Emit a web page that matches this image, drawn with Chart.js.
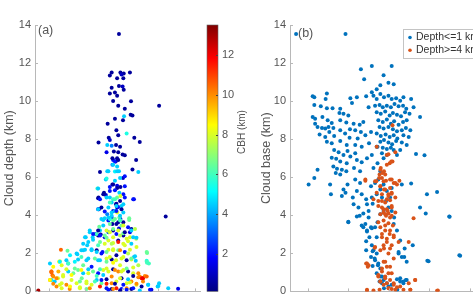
<!DOCTYPE html>
<html><head><meta charset="utf-8">
<script src="https://cdn.jsdelivr.net/npm/chart.js@4.4.1/dist/chart.umd.min.js"></script>
<style>
html,body{margin:0;padding:0;background:#fff;overflow:hidden;width:473px;height:302px;position:relative;}
.c{position:absolute;top:0;height:302px;}
</style></head><body>
<div class="c" style="left:0;width:205px"><canvas id="ca"></canvas></div>
<div class="c" style="left:200px;width:55px"><canvas id="cb"></canvas></div>
<div class="c" style="left:250px;width:250px"><canvas id="cc"></canvas></div>
<script>
// ---------- data ----------
const yTicks = [0,2,4,6,8,10,12,14];
const xTicks = [0,1,2,3,4];
const cbTicks = [2,4,6,8,10,12];
const cbhRange = [0.12, 13.5];
const titleA = 'Cloud depth (km)';
const titleB = 'Cloud base (km)';
const titleCB = 'CBH (km)';
const seriesLabels = ['Depth<=1 km','Depth>=4 km'];

// panel (a): [x, cloud depth (km), CBH (km)]
const panelA = [
[1.92,13.53,0.5],[1.72,11.5,0.5],[1.96,11.5,0.5],[2.05,11.45,0.5],[2.22,11.5,0.5],[1.67,11.35,0.5],[1.99,11.4,1],[1.87,11.2,0.5],[2.04,11.2,0.5],[1.72,10.7,0.5],[1.92,10.8,0.5],[2.02,10.77,1],[2.05,10.6,0.5],[1.81,10.45,0.5],[1.67,10.4,0.5],[1.87,10.28,0.5],[1.76,10,0.5],[2.25,9.99,0.5],[1.9,9.76,0.5],[3.02,9.76,0.5],[2.08,9.6,0.5],[2.24,9.28,0.5],[2.29,9.25,0.5],[2.06,9.21,4.5],[1.81,9.07,0.5],[2.03,8.99,0.5],[1.61,8.81,0.5],[1.85,8.47,0.5],[2.13,8.3,5.5],[1.9,8.2,0.5],[1.64,8.07,0.5],[2.34,8.07,0.5],[1.67,7.95,1],[1.36,7.83,0.5],[2.49,7.85,0.5],[1.6,7.69,4.5],[1.84,7.69,0.5],[1.95,7.6,0.5],[1.72,7.65,3.5],[1.78,7.35,0.5],[1.58,7.31,1.5],[1.9,7.31,0.5],[2.02,7.2,0.5],[2.08,7.15,0.5],[1.87,7,0.5],[1.76,6.91,2],[1.83,6.83,0.5],[2.39,6.9,0.5],[1.74,6.65,3.5],[1.87,6.57,4.5],[2.29,6.4,0.5],[2.45,6.27,4.5],[1.4,6.27,0.5],[1.6,6.31,4.5],[1.81,6.3,5],[1.92,6.32,4.5],[1.56,5.88,4.5],[1.81,5.82,4.5],[1.33,5.41,6],[1.49,5.1,0.5],[1.56,5.06,1],[1.36,4.93,0.5],[1.76,5.62,0.5],[1.87,5.55,1.5],[2.03,5.96,1],[2.08,6.05,2],[2.33,4.84,1.5],[1.37,4.32,0.5],[1.85,4.61,0.5],[1.87,4.41,0.5],[1.76,4.23,1.5],[1.6,4.06,3.5],[3.2,3.94,0.5],[1.72,3.89,2.5],[1.96,3.8,1],[2.2,3.75,6.5],[1.49,3.75,4.5],[1.38,3.4,6.5],[1.4,3.2,4.5],[1.63,3.11,3],[1.35,2.94,0.5],[1.28,3.02,2],[1.2,2.85,4.5],[1.53,2.85,1.5],[1.76,3.2,0.5],[1.92,3.3,1.5],[2.26,3.28,0.5],[2.22,3.11,1.5],[2.39,2.77,7.5],[2.04,2.94,0.5],[1.01,2.85,4.5],[1.05,2.42,4.5],[0.89,2.16,4.5],[0.78,1.95,4.5],[0.33,2.19,10.5],[0.51,2.13,6.5],[0.28,1.56,8.5],[0.48,1.64,4.5],[2.69,2.02,6.5],[2.68,1.61,5.5],[2.33,1.81,4.5],[2.74,1.47,6],[0.07,1.04,10],[0.1,0.85,10.5],[0.07,0.6,5],[-0.29,0.05,13],[3.27,0.17,4.5],[3.54,0.14,1.5],[3.02,0.43,4.5],[2.81,0.09,1.5],[2.58,0.69,11.5],[2.49,0.78,10],
[1.74,7.0,0.5],[1.81,6.83,2],[1.9,6.91,0.5],[1.76,6.65,4.5],[1.63,6.31,4.5],[1.87,6.31,4.5],[1.95,5.96,4.5],[1.58,5.93,5.5],[1.74,5.62,0.5],[1.67,5.48,2],[1.87,5.44,0.5],[1.96,5.48,0.5],[2.08,5.53,2],[1.35,5.41,4.5],[1.51,5.18,0.5],[1.67,5.27,2],[1.81,5.31,2],[1.93,5.18,4.5],[2.04,5.1,2],[2.08,4.93,2],[1.35,4.89,0.5],[1.67,4.93,4.5],[1.76,4.84,6],[1.87,4.93,6.5],[1.96,5.01,8],[1.72,4.67,4.5],[1.84,4.58,0.5],[1.9,4.44,2],[1.99,4.49,4.5],[1.63,4.41,4.5],[1.35,4.32,2],[1.53,4.2,2],[1.81,4.23,4.5],[1.87,4.15,8],[2.04,4.15,4.5],[2.2,3.85,6.5],[1.72,3.98,4.5],[1.93,3.89,6.5],[1.53,3.85,4.5],[1.63,3.72,2],[1.76,3.72,6.5],[1.95,3.75,4.5],
[1.44,3.8,4.5],[1.67,3.8,5.5],[1.74,3.54,0.5],[1.9,3.63,0.5],[1.99,3.46,6.5],[2.04,3.63,0.5],[1.12,3.11,4.5],[1.31,3.02,6],[1.42,2.99,0.5],[1.53,2.94,6.5],[1.67,3.11,8],[1.85,3.02,2],[2.04,3.06,6.5],[2.22,2.85,8],[0.99,2.85,4.5],[1.21,2.71,4.5],[1.4,2.59,6.5],[1.63,2.68,8],[1.76,2.54,8],[1.9,2.68,0.5],[2.04,2.51,8],[2.17,2.64,8],[2.4,2.82,4.5],[0.94,2.16,4.5],[1.17,2.21,4.5],[1.31,2.16,0.5],[1.47,2.07,2],[1.63,2.19,8],[1.76,2.21,8],[1.9,2.16,6.5],[2.08,2.07,2],[2.22,2.19,8],[0.8,1.68,4.5],[1.03,1.64,4.5],[1.26,1.73,6.5],[1.4,1.64,4.5],[1.58,1.73,8],[1.72,1.68,0.5],[1.84,1.64,8],[1.99,1.73,8],[2.13,1.64,0.5],[2.26,1.68,8],[2.38,1.61,4.5],[2.69,1.5,6],[0.3,1.59,8],[0.53,1.47,4.5],[0.07,1.04,10.5],[0.12,0.78,10],[0.16,0.52,4.5],[0.03,0.6,10],[0.25,0.69,8],[0.39,0.86,8],[0.53,1.04,4.5],[0.67,0.95,6.5],[0.8,1.12,6.5],[0.94,0.95,4.5],[1.08,1.16,4.5],[1.21,1.04,6.5],[1.35,0.95,2],[1.49,1.12,8],[1.63,1.04,8],[1.76,1.16,0.5],[1.9,1.04,10],[2.04,1.12,8],[2.17,1.04,0.5],[2.31,0.95,8],[2.45,0.74,10],[2.54,0.69,11.5],[2.63,0.81,10],[2.72,0.35,4.5],[2.98,0.26,4.5],[2.77,0.09,2],[0.21,0.26,10],[0.35,0.43,8],[0.48,0.35,10],[0.62,0.6,8],[0.76,0.43,8],[0.9,0.69,6.5],[1.03,0.52,8],[1.17,0.35,8],[1.31,0.6,4.5],[1.44,0.43,6.5],[1.58,0.64,0.5],[1.72,0.43,10],[1.85,0.52,8],[1.99,0.69,0.5],[2.13,0.43,8],[2.26,0.52,10],[2.4,0.35,8],[2.54,0.26,0.5],[1.58,0.17,2],[1.72,0.12,0.5],[1.85,0.17,11.5],[1.99,0.12,2],[2.13,0.17,10],[2.26,0.12,0.5],[0.85,0.17,8],[1.03,0.12,6.5],[0.57,0.12,10],[0.35,0.17,8],
[1.63,0.09,2],[1.76,0.12,10],[1.95,0.05,0.5],[2.13,0.09,2],[2.31,0.17,2],[2.49,0.05,4.5],[3.0,0.29,4.5],[1.4,0.26,11.5],[1.12,0.17,10],[0.85,0.22,8],[0.58,0.26,8.5],[0.3,0.35,8],[0.12,0.4,10],[0.03,0.6,8.5],[0.21,0.69,10],[0.39,0.78,8],[0.62,0.86,8.5],[0.85,0.52,6.5],[1.03,0.43,8],[1.26,0.52,6],[1.44,0.6,2],[1.58,0.4,11.5],[1.81,0.4,0.5],[2.04,0.35,2],[2.22,0.47,8],[2.4,0.4,10],[2.58,0.52,10],[2.72,0.35,4.5],[2.68,0.78,10.5],[2.57,0.69,12],[2.45,0.95,10],[2.31,0.81,0.5],[2.17,0.64,4.5],[1.95,0.69,8],[1.72,0.78,10],[1.49,0.86,4.5],[1.31,0.81,6],[1.08,0.95,8],[0.89,1.12,8.5],[0.71,1.21,6.5],[0.48,1.16,8],[0.26,1.04,9.5],[0.07,0.99,10.5],[0.12,1.3,8.5],[0.35,1.38,8],[0.53,1.47,6],[0.71,1.56,5],[0.94,1.38,6.5],[1.17,1.3,2],[1.4,1.16,6],[1.58,1.21,8],[1.81,1.12,10],[1.99,1.04,8],[2.13,1.21,6.5],[2.31,1.26,8],[2.45,1.38,7.5],[1.95,1.38,8],[1.76,1.5,8.5],[1.58,1.56,6.5],[1.35,1.64,4.5],[1.08,1.73,4.5],[0.89,1.81,6],[0.76,1.99,4.5],[0.58,1.9,5],[0.3,1.56,5],[0.03,1.47,4.5],[1.67,1.81,8],[1.85,1.9,0.5],[2.04,1.81,8],[2.17,1.99,7.5],[2.26,1.73,6.5],[2.36,1.85,4.5],[1.95,2.16,10],[1.76,2.16,8],[1.58,2.07,6.5],[1.44,1.99,2],[1.31,2.07,4.5],[1.17,2.16,4.5],[0.99,2.19,4.5],[0.94,2.51,4.5],[1.08,2.59,4.5],[1.35,2.42,6],[1.53,2.51,8],[1.72,2.51,7.5],[1.9,2.59,11.5],[2.08,2.42,8],[2.26,2.51,4.5],[2.4,2.33,8],[2.68,2.07,6.5],[2.68,1.56,6],[2.31,2.85,4.5],[2.13,2.77,8],[1.95,2.94,7.5],[1.76,2.85,8],[1.58,2.82,6.5],[1.4,2.94,2],[1.21,3.02,2],[1.12,3.2,4.5],[1.35,3.2,0.5],[1.58,3.2,8],[1.76,3.28,6.5],[1.9,3.2,8],[2.08,3.11,0.5],[2.26,3.2,4.5],[2.36,3.28,7.5],[1.49,3.46,4.5],[1.67,3.54,6.5],[1.85,3.54,0.5],[2.04,3.46,8],[2.17,3.37,2],[1.95,3.72,6],[1.81,3.8,6.5],[1.63,3.89,4.5],[1.95,3.98,4.5],[1.72,4.15,4.5],[1.85,4.23,2],[1.99,4.32,0.5],[1.44,4.41,0.5],[1.35,4.32,4.5],[2.04,4.58,4.5],[1.85,4.49,4.5],[1.67,4.67,6],[1.95,4.75,0.5],[1.81,4.84,6],[2.31,4.84,2],[1.4,4.84,2],[1.58,4.93,4.5]
];

// panel (b), Depth<=1 km: [x, cloud base (km)]
const baseShallow = [
[-0.29,13.53],[0.93,13.53],[1.31,11.67],[1.58,11.84],[2.07,11.84],[1.39,11.15],[1.87,11.36],[1.99,10.97],[2.12,10.89],[1.79,10.84],[1.70,10.63],
[0.12,10.25],[0.16,10.20],[0.47,10.40],[0.44,10.11],[0.16,9.80],[0.32,9.73],[0.47,9.63],[0.61,9.63],[1.05,10.15],[1.21,10.20],[0.80,9.60],[1.09,9.90],[1.44,10.25],[1.58,10.46],[1.50,9.68],[0.78,9.38],[0.88,9.33],[1.00,9.25],[0.12,9.16],[0.18,9.07],[0.36,9.16],[0.49,8.99],[0.59,8.85],[0.18,8.81],[0.24,8.64],[0.35,8.59],[0.43,8.56],[0.51,8.64],[0.63,8.59],[0.80,8.99],[0.95,8.87],[1.13,8.81],[1.28,8.76],[1.37,8.90],[1.04,8.52],[1.17,8.47],[1.31,8.38],[0.80,8.47],[0.53,8.38],[0.29,8.24],[0.43,8.12],[0.65,8.17],[0.92,8.30],[1.03,8.07],[1.23,8.04],[1.42,8.21],[1.56,8.38],[0.47,7.86],[0.59,7.78],[0.80,7.90],[0.96,7.69],[1.17,7.69],[1.33,7.60],[1.51,7.78],[1.70,7.60],[0.65,7.43],[0.76,7.31],[0.88,7.17],[0.98,7.38],[1.05,7.09],[1.17,7.26],[0.59,7.03],[0.70,6.97],[0.80,6.83],[0.96,6.74],[1.21,6.91],[1.33,6.79],[1.46,7.00],[1.58,7.17],[0.63,6.57],[0.72,6.45],[0.84,6.39],[0.95,6.31],[0.69,6.22],[0.80,6.14],[1.14,6.48],[1.29,6.31],[0.24,6.39],[0.16,5.96],[0.02,5.62],[0.55,5.62],[0.57,5.10],[0.88,5.36],[0.98,5.62],[1.17,5.88],[1.29,5.70],[0.84,5.01],[0.93,5.18],[1.11,4.93],[1.21,5.27],[1.33,5.10],[1.00,3.63],[1.13,4.58],[1.25,4.41],[1.28,3.98],[1.37,4.10],[1.50,4.23],[1.60,4.61],[1.46,4.58],[1.44,4.84],[1.58,4.93],[1.70,5.10],[1.56,5.53],[1.66,5.70],[1.74,5.88],[1.79,6.31],[1.62,6.48],[1.72,6.74],[1.87,7.00],[1.83,7.26],[1.95,7.17],[2.12,7.43],[2.28,7.43],[2.20,7.17],[2.32,5.62],[2.55,5.67],[2.67,7.22],[2.88,7.15],[2.77,9.16],[2.61,9.68],[2.55,10.11],[3.19,5.22],[2.94,5.10],[2.77,4.41],[2.91,4.10],[3.50,3.92],[3.76,1.88],[2.95,1.61],[2.59,2.42],[2.38,1.81],[2.24,1.99],[2.28,2.68],[2.20,3.20],[2.12,3.54],[2.13,3.89],[2.07,4.23],
[1.62,10.28],[1.70,10.11],[1.79,10.37],[1.88,10.20],[1.99,10.28],[2.07,10.11],[2.18,10.15],[2.28,10.02],[2.36,10.20],[1.66,9.76],[1.77,9.80],[1.85,9.68],[1.95,9.76],[2.05,9.68],[2.14,9.85],[2.24,9.73],[2.35,9.76],[2.43,9.60],[1.70,9.42],[1.80,9.33],[1.91,9.45],[2.02,9.25],[2.10,9.38],[2.20,9.28],[2.30,9.21],[2.40,9.42],[2.51,9.33],[1.74,8.99],[1.85,8.90],[1.95,9.04],[2.05,8.81],[2.13,8.94],[2.24,8.76],[2.35,8.90],[2.44,8.99],[1.77,8.64],[1.87,8.56],[1.99,8.64],[2.10,8.52],[2.20,8.42],[2.32,8.47],[2.42,8.59],[2.53,8.47],[1.70,8.30],[1.80,8.17],[1.92,8.24],[2.02,8.12],[2.12,8.21],[2.21,8.04],[2.36,8.21],[2.49,8.12],[1.79,7.86],[1.88,7.95],[1.99,7.83],[2.08,7.73],[2.18,7.90],[2.32,7.83],[2.44,7.69],[1.72,7.60],[1.85,7.55],[1.95,7.48],[2.05,7.55],
[1.46,3.20],[1.52,2.85],[1.58,2.42],[1.44,2.16],[1.62,2.16],[1.70,1.99],[1.56,1.81],[1.66,1.64],[1.74,1.47],[1.60,1.33],[1.79,1.21],[1.70,0.95],[1.83,0.78],[1.77,0.52],[1.87,0.60],[1.95,0.43],[1.99,0.26],[1.88,0.17],[2.07,0.35],[2.20,0.64],[2.28,0.52],[2.36,0.43],[2.44,0.60],[2.21,0.09],[1.56,3.37],[1.42,3.54],[1.66,3.37],[1.72,3.63],[1.33,3.46],[1.50,3.89],[1.79,4.06],[1.87,4.23],[1.99,4.41],[1.93,4.75],[2.03,4.93],[1.83,4.93],[1.95,5.27],[2.07,5.44],[1.87,5.62],[1.79,5.36],
[1.00,3.66],[1.21,3.94],[1.37,3.37],[1.46,3.15],[1.58,3.32],[1.70,2.85],[1.44,2.63],[1.60,2.11],[1.65,1.73],[1.73,1.38],[2.24,2.07],[2.32,1.81],[2.39,2.25],[2.44,1.56],[2.98,1.59],[3.74,1.90],[2.28,0.69],[2.36,0.52],[2.42,0.60],[1.83,0.43],[1.79,0.78],[3.49,3.94]
];

// panel (b), Depth>=4 km: [x, cloud base (km)]
const baseDeep = [
[2.09,8.73],[1.95,7.17],[2.02,6.74],[2.09,6.83],[1.80,6.48],[1.88,6.31],[1.77,6.14],[1.83,5.96],[1.69,5.79],[1.93,5.82],[2.03,5.88],[2.12,5.70],[2.20,5.62],[2.26,5.82],[1.42,5.82],[1.79,5.53],[1.88,5.36],[1.99,5.10],[2.07,5.18],[2.16,4.93],[1.95,4.84],[1.83,4.75],[1.74,4.49],[1.87,4.32],[1.97,4.23],[2.07,4.41],[2.16,4.15],[1.79,4.06],[1.93,3.98],[2.03,3.89],[2.61,3.85],[1.87,3.72],[1.99,3.58],[2.10,3.46],[1.79,3.37],[1.91,3.20],[2.02,3.02],[2.12,2.85],[1.83,2.85],[1.95,2.59],[2.07,2.42],[1.88,2.25],[1.79,2.16],[1.99,1.99],[2.12,1.73],[2.24,2.59],[1.65,2.30],[1.44,1.47],[1.48,1.30],[1.87,1.56],[1.95,1.30],[1.83,1.04],[1.99,0.95],[1.74,0.78],[1.91,0.69],[2.03,0.60],[2.12,0.43],[1.79,0.52],[1.87,0.35],[1.99,0.17],[2.07,0.12],[2.20,0.22],[2.28,0.26],[2.36,0.09],[1.77,0.09],[1.62,0.05],[1.46,0.09],[2.53,0.09],[2.65,0.60],[2.49,0.43],[3.21,0.05],
[1.70,7.60],[1.99,7.21],[2.16,7.31],[2.06,6.83],[1.95,6.65],[1.79,6.39],[1.84,6.22],[1.91,6.14],[1.76,5.96],[1.42,5.88],[1.66,5.79],[1.87,5.79],[2.07,5.88],[2.16,5.70],[1.79,5.53],[1.91,5.36],[2.03,5.44],[1.70,5.18],[1.83,5.10],[1.99,5.01],[2.07,5.13],[1.62,4.84],[1.74,4.75],[1.91,4.67],[2.03,4.79],[1.83,4.41],[1.95,4.32],[2.07,4.49],[1.87,4.15],[1.99,4.10],
[1.91,4.06],[2.07,3.98],[1.74,3.63],[1.91,3.46],[2.03,3.20],[1.83,3.02],[2.12,2.94],[1.95,2.77],[1.66,2.33],[1.87,2.42],[2.03,2.25],[2.49,2.59],[1.46,1.47],[1.50,1.38],[1.91,1.56],[1.83,1.21],[2.03,1.30],[1.74,0.86],[1.91,0.78],[2.07,0.95],[1.79,0.52],[1.95,0.43],[2.12,0.35],[2.00,0.17],[2.16,0.09],[2.65,0.60],[2.53,0.09],[1.46,0.03],[3.19,0.03]
];

// ---------- style ----------
const FONT = '"Liberation Sans", Arial, Helvetica, sans-serif';
const TXT = '#555555';
const AX = '#b8b8b8';
const BLUE = '#0072BD';
const ORANGE = '#D95319';

function jet(v){
  const t = (v - cbhRange[0]) / (cbhRange[1] - cbhRange[0]);
  const c = x => Math.round(255 * Math.max(0, Math.min(1, x)));
  return 'rgb(' + c(1.5 - Math.abs(4*t - 3)) + ',' + c(1.5 - Math.abs(4*t - 2)) + ',' + c(1.5 - Math.abs(4*t - 1)) + ')';
}

function yAxis(title, width, titlePad){
  return {type:'linear', min:0, max:14,
    afterBuildTicks: s => { s.ticks = yTicks.map(v => ({value:v})); },
    ticks:{color:TXT, font:{family:FONT, size:11}, padding:4},
    grid:{display:false, drawTicks:false},
    border:{display:true, color:AX},
    title:{display:true, text:title, color:TXT, font:{family:FONT, size:12.5}, padding:{top:titlePad, bottom:0}},
    afterFit: s => { s.width = width; }};
}
function xAxis(min, max){
  return {type:'linear', min:min, max:max,
    afterBuildTicks: s => { s.ticks = xTicks.map(v => ({value:v})); },
    ticks:{display:false}, grid:{display:false, drawTicks:false},
    border:{display:true, color:AX},
    afterFit: s => { s.height = 7; }};
}

const innerTicks = {id:'innerTicks', afterDatasetsDraw(chart){
  const {ctx, chartArea:a, scales} = chart;
  ctx.save(); ctx.strokeStyle = AX; ctx.lineWidth = 1; ctx.beginPath();
  xTicks.forEach(v => { const p = Math.round(scales.x.getPixelForValue(v)) + 0.5;
    if (p > a.left + 1 && p < a.right) { ctx.moveTo(p, a.bottom); ctx.lineTo(p, a.bottom - 3); } });
  yTicks.forEach(v => { const p = Math.round(scales.y.getPixelForValue(v)) + 0.5;
    ctx.moveTo(a.left, p); ctx.lineTo(a.left + 3, p); });
  ctx.stroke(); ctx.restore();
}};
const panelTag = {id:'panelTag', afterDraw(chart, args, opts){
  const {ctx, chartArea:a} = chart;
  ctx.save(); ctx.fillStyle = TXT; ctx.font = '12.5px ' + FONT; ctx.textBaseline = 'middle';
  ctx.fillText(opts.text, a.left + opts.dx, opts.y); ctx.restore();
}};
const boxLegend = {id:'boxLegend', afterDraw(chart){
  const {ctx, chartArea:a} = chart;
  const x0 = a.left + 113, y0 = 29, w = 140, h = 29;
  ctx.save();
  ctx.fillStyle = '#fff'; ctx.fillRect(x0, y0, w, h);
  ctx.strokeStyle = '#c4c4c4'; ctx.lineWidth = 1; ctx.strokeRect(x0 + 0.5, y0 + 0.5, w, h);
  ctx.font = '10.5px ' + FONT; ctx.textBaseline = 'middle';
  chart.data.datasets.forEach((ds, i) => {
    const y = y0 + 8.5 + i * 12.7;
    ctx.fillStyle = ds.pointBackgroundColor; ctx.beginPath(); ctx.arc(x0 + 7, y, 1.8, 0, 2*Math.PI); ctx.fill();
    ctx.fillStyle = '#333'; ctx.fillText(ds.label, x0 + 13, y);
  });
  ctx.restore();
}};
const cbar = {id:'cbar', beforeDatasetsDraw(chart){
  const {ctx, chartArea:a} = chart;
  const g = ctx.createLinearGradient(0, a.bottom, 0, a.top);
  for (let i = 0; i <= 32; i++) { const t = i/32; g.addColorStop(t, jet(cbhRange[0] + t*(cbhRange[1]-cbhRange[0]))); }
  ctx.save(); ctx.fillStyle = g; ctx.fillRect(a.left, a.top, a.right - a.left, a.bottom - a.top);
  ctx.strokeStyle = '#666'; ctx.lineWidth = 0.6; ctx.strokeRect(a.left, a.top, a.right - a.left, a.bottom - a.top);
  ctx.strokeStyle = '#444'; ctx.lineWidth = 1; ctx.beginPath();
  cbTicks.forEach(v => { const p = Math.round(chart.scales.y.getPixelForValue(v)) + 0.5; ctx.moveTo(a.right, p); ctx.lineTo(a.right - 2, p); });
  ctx.stroke();
  ctx.translate(42, 132); ctx.rotate(-Math.PI/2);
  ctx.fillStyle = TXT; ctx.font = '10px ' + FONT; ctx.textAlign = 'center'; ctx.textBaseline = 'middle';
  ctx.fillText(titleCB, 0, 0);
  ctx.restore();
}};

const base = {responsive:true, maintainAspectRatio:false, animation:false, events:[], devicePixelRatio:1};

new Chart(document.getElementById('ca'), {
  type:'scatter',
  data:{datasets:[{label:'CBH', data:panelA.map(p => ({x:p[0], y:p[1]})),
    pointBackgroundColor:panelA.map(p => jet(p[2])), pointBorderWidth:0, pointRadius:2, borderColor:'rgba(0,0,0,0)'}]},
  options:Object.assign({}, base, {
    layout:{padding:{top:25, right:5, bottom:0, left:0}},
    scales:{x:xAxis(-0.38, 4.14), y:yAxis(titleA, 35, 2.5)},
    plugins:{legend:{display:false}, tooltip:{enabled:false}, panelTag:{text:'(a)', dx:3, y:31}}
  }),
  plugins:[innerTicks, panelTag]
});

new Chart(document.getElementById('cb'), {
  type:'scatter',
  data:{datasets:[]},
  options:Object.assign({}, base, {
    layout:{padding:{top:25, right:0, bottom:7, left:7}},
    scales:{
      x:{type:'linear', min:0, max:1, display:false},
      y:{type:'linear', position:'right', min:cbhRange[0], max:cbhRange[1],
        afterBuildTicks: s => { s.ticks = cbTicks.map(v => ({value:v})); },
        ticks:{color:TXT, font:{family:FONT, size:11}, padding:4},
        grid:{display:false, drawTicks:false}, border:{display:false},
        afterFit: s => { s.width = 37; }}
    },
    plugins:{legend:{display:false}, tooltip:{enabled:false}}
  }),
  plugins:[cbar]
});

new Chart(document.getElementById('cc'), {
  type:'scatter',
  data:{datasets:[
    {label:seriesLabels[0], order:1, data:baseShallow.map(p => ({x:p[0], y:p[1]})),
      pointBackgroundColor:BLUE, pointBorderWidth:0, pointRadius:2, borderColor:'rgba(0,0,0,0)'},
    {label:seriesLabels[1], order:0, data:baseDeep.map(p => ({x:p[0], y:p[1]})),
      pointBackgroundColor:ORANGE, pointBorderWidth:0, pointRadius:2, borderColor:'rgba(0,0,0,0)'}
  ]},
  options:Object.assign({}, base, {
    layout:{padding:{top:25, right:5, bottom:0, left:0}},
    scales:{x:xAxis(-0.44, 4.62), y:yAxis(titleB, 40, 9.5)},
    plugins:{legend:{display:false}, tooltip:{enabled:false}, panelTag:{text:'(b)', dx:8, y:34}}
  }),
  plugins:[innerTicks, panelTag, boxLegend]
});
</script>
</body></html>
